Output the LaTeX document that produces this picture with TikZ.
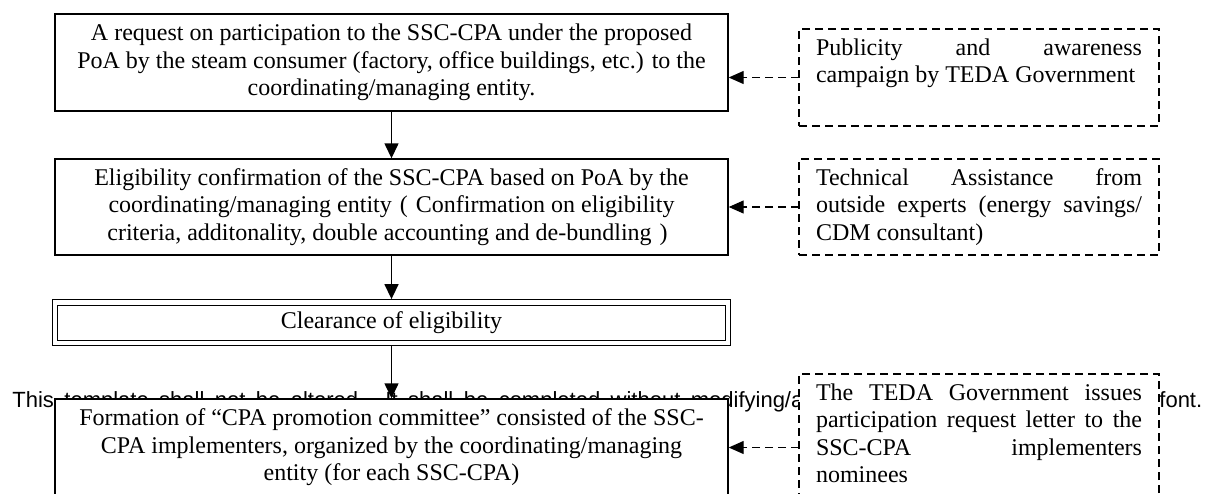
\documentclass[tikz,border=0pt]{standalone}
\usepackage{fontspec}
\setmainfont{Liberation Serif}
\newfontfamily\footfont{Liberation Sans}
\usetikzlibrary{arrows.meta,positioning}

% forced breaks in the justified side notes
\tolerance=10000
\hbadness=10000

% full-width brackets, glyph centred in a 1em slot
\newcommand{\wideopen}{\makebox[1em]{(}}
\newcommand{\wideclose}{\makebox[1em]{)}}

\begin{document}
\begin{tikzpicture}

\tikzset{
  box/.style={draw, line width=0.7pt, fill=white, align=center, inner sep=0pt,
    minimum width=336.5pt, font=\fontsize{12pt}{13.8pt}\selectfont},
  sidebox/.style={draw, line width=0.6pt, dash pattern=on 4pt off 2.5pt, fill=white,
    text width=163pt, align=justify, inner xsep=8.5pt, inner ysep=4.8pt, outer sep=0pt,
    text height=8.2pt, font=\fontsize{12pt}{13.8pt}\selectfont},
  flow/.style={line width=0.7pt, -{Triangle[length=7.5pt,width=7pt]}},
  hint/.style={line width=0.6pt, dash pattern=on 4pt off 2.5pt, -{Triangle[length=7.5pt,width=6.5pt]}}
}

\useasboundingbox (0,0) rectangle (604.5pt,-246.5pt);
\clip (0,0) rectangle (604.5pt,-246.5pt);

% page footer, partly covered by the boxes
\node[anchor=base west, inner sep=0pt, font=\footfont\fontsize{11pt}{13pt}\selectfont] (footer) at (6pt,-203.5pt)
  {\makebox[595pt][s]{This template shall not be altered. It shall be completed without modifying/adding headings or logo, format or font.}};

% main steps
\node[box, minimum height=48.5pt] (req) at (195.75pt,-31.25pt)
  {A request on participation to the SSC-CPA under the proposed\\
   PoA by the steam consumer (factory, office buildings, etc.) to the\\
   coordinating/managing entity.};
\node[box, minimum height=48pt, below=23.3pt of req] (elig)
  {Eligibility confirmation of the SSC-CPA based on PoA by the\\
   coordinating/managing entity\wideopen Confirmation on eligibility\\
   criteria, additonality, double accounting and de-bundling\wideclose};
\node[box, minimum height=20.25pt, line width=0.6pt, double, double distance=2.2pt,
  outer sep=1.7pt, below=21.7pt of elig] (clear) {Clearance of eligibility};
\node[box, minimum height=48.5pt, below=25.95pt of clear] (form)
  {Formation of “CPA promotion committee” consisted of the SSC-\\
   CPA implementers, organized by the coordinating/managing\\
   entity (for each SSC-CPA)};

% supporting actions
\node[sidebox, text depth=30.7pt, anchor=north west] (pub) at (399.5pt,-14.5pt)
  {Publicity and awareness\linebreak \mbox{campaign by TEDA Government}};
\node[sidebox, text depth=30.2pt, right=35.15pt of elig] (tech)
  {Technical Assistance from\linebreak outside experts (energy savings/\linebreak CDM consultant)};
\node[sidebox, text depth=50.2pt, anchor=north west] (nom) at (399.5pt,-187pt)
  {The TEDA Government issues\linebreak participation request letter to the\linebreak SSC-CPA implementers\linebreak nominees};

\draw[flow] (req) -- (elig);
\draw[flow] (elig) -- (clear);
\draw[flow] (clear) -- (form);

\draw[hint] (pub.west) -- (pub.west -| req.east);
\draw[hint] (tech) -- (elig);
\draw[hint] (form.east -| nom.west) -- (form.east);

\end{tikzpicture}
\end{document}
